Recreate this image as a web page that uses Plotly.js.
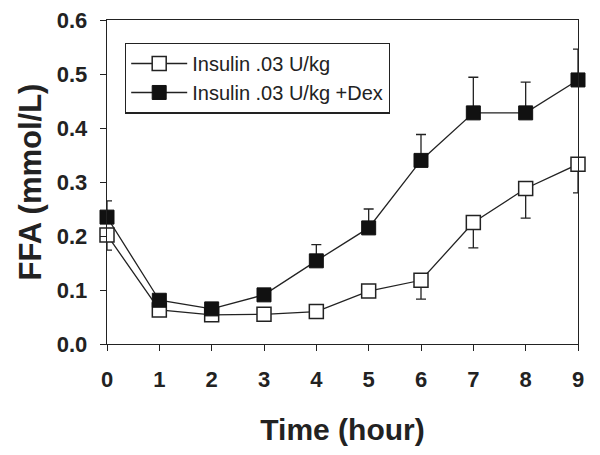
<!DOCTYPE html>
<html><head><meta charset="utf-8">
<script src="https://cdn.plot.ly/plotly-3.0.1.min.js"></script>
<style>html,body{margin:0;padding:0;background:#fff}</style>
</head><body>
<div id="chart" style="width:600px;height:455px"></div>
<script>
const hours = [0,1,2,3,4,5,6,7,8,9];
const insulin = [0.202,0.063,0.054,0.055,0.060,0.098,0.118,0.225,0.288,0.333];
const insulinErrLow = [0.028,0.006,0.004,0.004,0.004,0.010,0.035,0.047,0.055,0.053];
const dex = [0.235,0.081,0.065,0.091,0.154,0.215,0.340,0.428,0.428,0.489];
const dexErrHigh = [0.030,0.006,0.004,0.004,0.030,0.035,0.048,0.066,0.057,0.057];
const zeros = hours.map(()=>0);
const names = ['Insulin .03 U/kg','Insulin .03 U/kg +Dex'];

const traces = [
  {x:hours,y:insulin,name:names[0],type:'scatter',mode:'lines+markers',cliponaxis:false,
   line:{color:'#222',width:1.3},
   marker:{symbol:'square',size:14,color:'#fff',line:{color:'#222',width:1.5}},
   error_y:{type:'data',symmetric:false,array:zeros,arrayminus:insulinErrLow,color:'#222',thickness:1.3,width:5}},
  {x:hours,y:dex,name:names[1],type:'scatter',mode:'lines+markers',cliponaxis:false,
   line:{color:'#222',width:1.3},
   marker:{symbol:'square',size:14,color:'#111',line:{color:'#111',width:1}},
   error_y:{type:'data',symmetric:false,array:dexErrHigh,arrayminus:zeros,color:'#222',thickness:1.3,width:5}}
];
const layout = {
  width:600,height:455,
  margin:{l:107,r:22,t:20,b:111},
  paper_bgcolor:'#fff',plot_bgcolor:'#fff',
  font:{family:'Arial, Liberation Sans, sans-serif',color:'#222'},
  showlegend:true,
  legend:{x:0.038,y:0.93,xanchor:'left',yanchor:'top',bgcolor:'#fff',
    bordercolor:'#222',borderwidth:1.3,font:{size:20,color:'#222'},tracegroupgap:0,itemwidth:56},
  xaxis:{range:[0,9],tickvals:hours,ticktext:hours.map(String),
    showline:true,linecolor:'#222',linewidth:1.3,mirror:true,
    ticks:'outside',ticklen:6,tickcolor:'#222',showgrid:false,zeroline:false,ticklabelstandoff:9,
    tickfont:{size:22,family:'Arial',weight:'bold',color:'#222'},
    title:{text:'<b>Time (hour)</b>',font:{size:30,color:'#222'},standoff:28}},
  yaxis:{range:[0,0.6],tickvals:[0,0.1,0.2,0.3,0.4,0.5,0.6],tickformat:'.1f',
    showline:true,linecolor:'#222',linewidth:1.3,mirror:true,
    ticks:'outside',ticklen:6,tickcolor:'#222',showgrid:false,zeroline:false,ticklabelstandoff:8,
    tickfont:{size:22,family:'Arial',weight:'bold',color:'#222'},
    title:{text:'<b>FFA (mmol/L)</b>',font:{size:31,color:'#222'},standoff:6}}
};
Plotly.newPlot('chart',traces,layout,{displayModeBar:false,staticPlot:true});
</script>
</body></html>
